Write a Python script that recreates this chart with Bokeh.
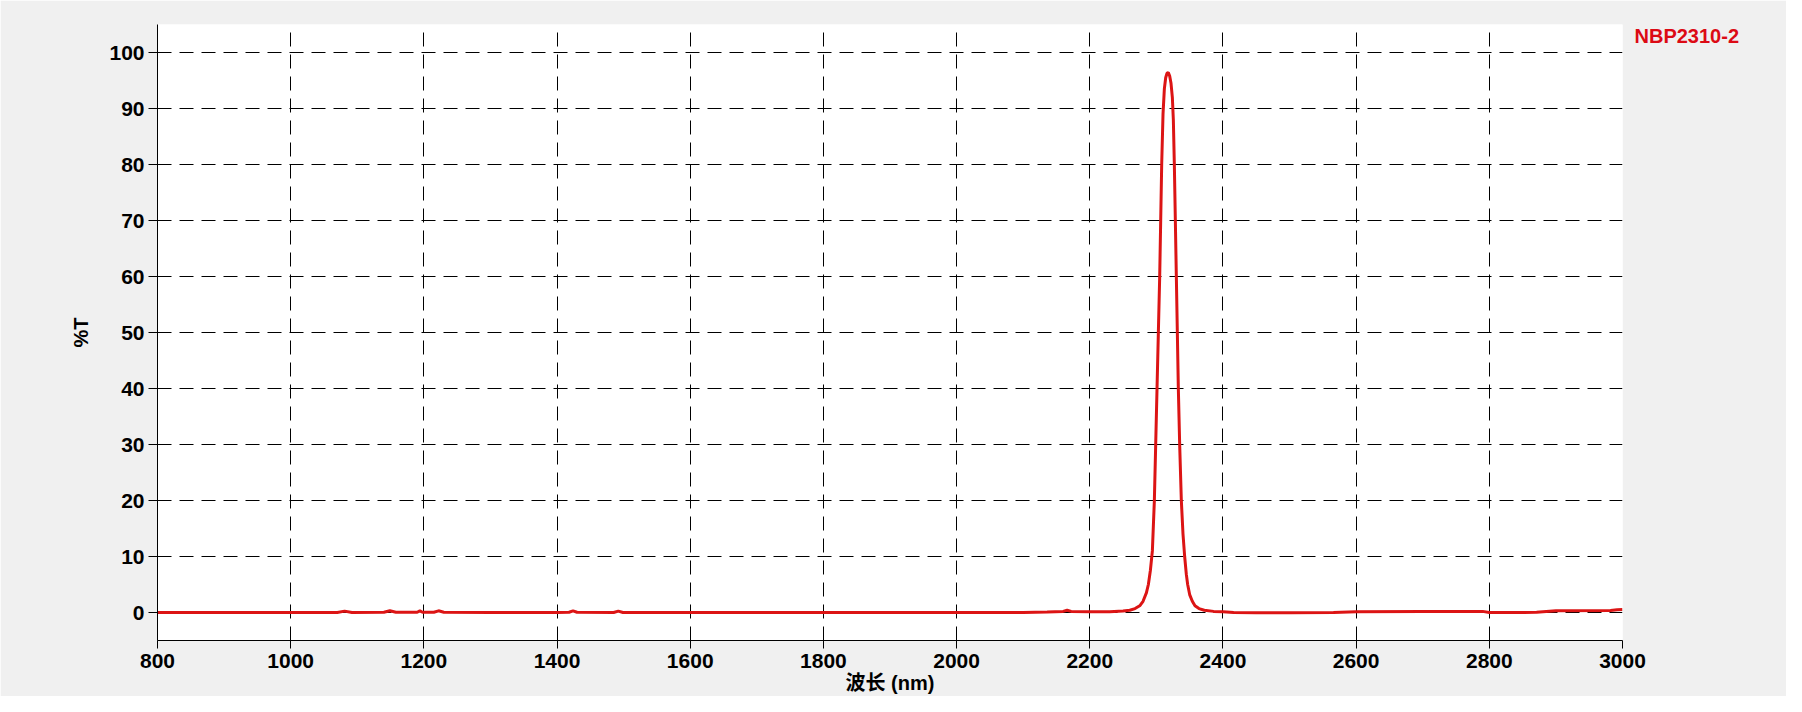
from bokeh.plotting import figure
from bokeh.models import Range1d, FixedTicker, LinearAxis, ColumnDataSource
from bokeh.embed import file_html
from bokeh.resources import INLINE

# ---- data ----
wavelength = [800, 900, 1000, 1070, 1081, 1092, 1140, 1149, 1158, 1190, 1194, 1198,
              1215, 1222, 1230, 1300, 1400, 1418, 1424, 1430, 1485, 1492, 1499, 1600,
              1800, 2000, 2100, 2136, 2160, 2166, 2172, 2200, 2230, 2250, 2260, 2268,
              2275, 2280, 2285, 2288, 2291, 2294, 2297, 2299, 2301, 2303, 2305, 2306.5,
              2308, 2310, 2312, 2314, 2316, 2318, 2320, 2322, 2324, 2325.5, 2327, 2328.5,
              2330, 2331.5, 2333, 2335, 2337.5, 2340, 2342.5, 2345, 2347, 2350, 2354,
              2358, 2364, 2372, 2386, 2400, 2416, 2450, 2500, 2566, 2600, 2700, 2790,
              2800, 2850, 2871, 2900, 2982, 2992, 3000]
transmittance = [0.0, 0.0, 0.0, 0.0, 0.25, 0.0, 0.05, 0.3, 0.05, 0.05, 0.3, 0.05,
                 0.05, 0.3, 0.05, 0.0, 0.0, 0.05, 0.3, 0.05, 0.0, 0.25, 0.0, 0.0,
                 0.0, 0.0, 0.0, 0.1, 0.2, 0.4, 0.2, 0.15, 0.15, 0.25, 0.4, 0.7,
                 1.2, 2.0, 3.5, 5.0, 7.5, 11, 20, 30, 40, 50, 60, 70,
                 80, 89, 93.5, 95.5, 96.3, 96.4, 95.8, 94.5, 92, 88, 80, 70,
                 60, 50, 40, 30, 20, 14, 10, 6.8, 5.0, 3.2, 2.0,
                 1.2, 0.7, 0.4, 0.2, 0.15, 0.0, -0.05, -0.05, 0.0, 0.15, 0.2, 0.2,
                 0.0, 0.0, 0.05, 0.3, 0.35, 0.5, 0.55]
x_ticks = [800, 1000, 1200, 1400, 1600, 1800, 2000, 2200, 2400, 2600, 2800, 3000]
y_ticks = [0, 10, 20, 30, 40, 50, 60, 70, 80, 90, 100]
series_name = "NBP2310-2"
x_label = "波长 (nm)"
y_label = "%T"

FONT = "Liberation Sans, Arial, Noto Sans CJK SC"

p = figure(width=1786, height=696, output_backend="svg", toolbar_location=None,
           x_range=Range1d(800, 3000), y_range=Range1d(-5, 105),
           min_border_left=157, min_border_right=164, min_border_top=24,
           min_border_bottom=56)

p.background_fill_color = "white"
p.border_fill_color = "#F0F0F0"
p.outline_line_color = None

src = ColumnDataSource(dict(x=wavelength, y=transmittance))
p.line("x", "y", source=src, line_color="#DC1414", line_width=3)

for ax in (p.xaxis[0], p.yaxis[0]):
    ax.axis_line_color = "black"
    ax.axis_line_width = 1
    ax.major_tick_line_color = "black"
    ax.major_tick_in = 0
    ax.minor_tick_line_color = None
    ax.major_label_text_font = FONT
    ax.major_label_text_font_style = "bold"
    ax.major_label_text_font_size = "21px"
    ax.major_label_text_color = "black"
    ax.axis_label_text_font = FONT
    ax.axis_label_text_font_style = "bold"
    ax.axis_label_text_font_size = "20px"
    ax.axis_label_text_color = "black"

p.xaxis.ticker = FixedTicker(ticks=x_ticks)
p.yaxis.ticker = FixedTicker(ticks=y_ticks)
p.xaxis.major_tick_out = 8
p.yaxis.major_tick_out = 9
p.xaxis.major_label_standoff = 5
p.yaxis.major_label_standoff = 4
p.xaxis.axis_label = x_label
p.yaxis.axis_label = y_label
p.xaxis.axis_label_standoff = 1
p.yaxis.axis_label_standoff = 14

for g in (p.xgrid[0], p.ygrid[0]):
    g.grid_line_color = "black"
    g.grid_line_width = 1
    g.grid_line_dash = "14 8"
    g.grid_line_alpha = 1.0

# series name shown at top right, outside the plot frame (as in the reference)
name_axis = LinearAxis(ticker=FixedTicker(ticks=[103]),
                       major_label_overrides={103: series_name})
name_axis.axis_line_color = None
name_axis.major_tick_line_color = None
name_axis.minor_tick_line_color = None
name_axis.major_tick_out = 0
name_axis.major_tick_in = 0
name_axis.major_label_standoff = 12
name_axis.major_label_text_color = "#DC0A14"
name_axis.major_label_text_font = "Liberation Sans"
name_axis.major_label_text_font_style = "bold"
name_axis.major_label_text_font_size = "20px"
p.add_layout(name_axis, "right")

open("out.html", "w").write(file_html(p, INLINE))
